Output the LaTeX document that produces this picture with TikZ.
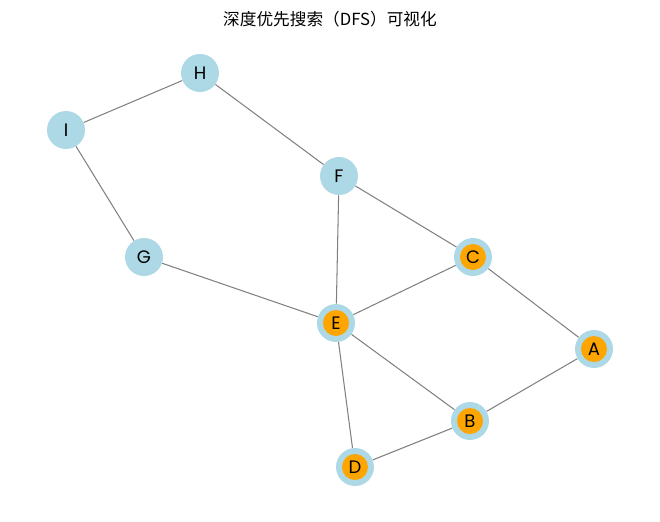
\documentclass[tikz,border=0pt]{standalone}
\usepackage{fontspec}
\setmainfont{Poppins}
\newfontfamily\cjk{Noto Sans CJK SC}
\definecolor{lblue}{RGB}{173,216,230}
\definecolor{orng}{RGB}{255,165,0}
\begin{document}
\begin{tikzpicture}[x=0.72pt,y=-0.72pt,
  vtx/.style={circle,fill=lblue,minimum size=38*0.72pt,inner sep=0pt,font=\fontsize{13}{15}\selectfont},
  vis/.style={vtx,path picture={\fill[orng] (path picture bounding box.center) circle (13*0.72pt);}},
  edge/.style={draw=gray,line width=0.75pt}]
\useasboundingbox (0,0) rectangle (660,522);
\node[font=\cjk\fontsize{12}{14}\selectfont] (title) at (330,19) {深度优先搜索（DFS）可视化};
\node[vtx] (H) at (200,73) {H};
\node[vtx] (I) at (66,130) {I};
\node[vtx] (F) at (339,176) {F};
\node[vtx] (G) at (144,257) {G};
\node[vis] (C) at (473,257) {C};
\node[vis] (E) at (336,323) {E};
\node[vis] (A) at (594,349) {A};
\node[vis] (B) at (470,421) {B};
\node[vis] (D) at (355,467) {D};
\foreach \a/\b in {H/I,H/F,I/G,G/E,F/E,F/C,C/E,C/A,A/B,E/B,E/D,D/B}
  \draw[edge] (\a) -- (\b);
\end{tikzpicture}
\end{document}
